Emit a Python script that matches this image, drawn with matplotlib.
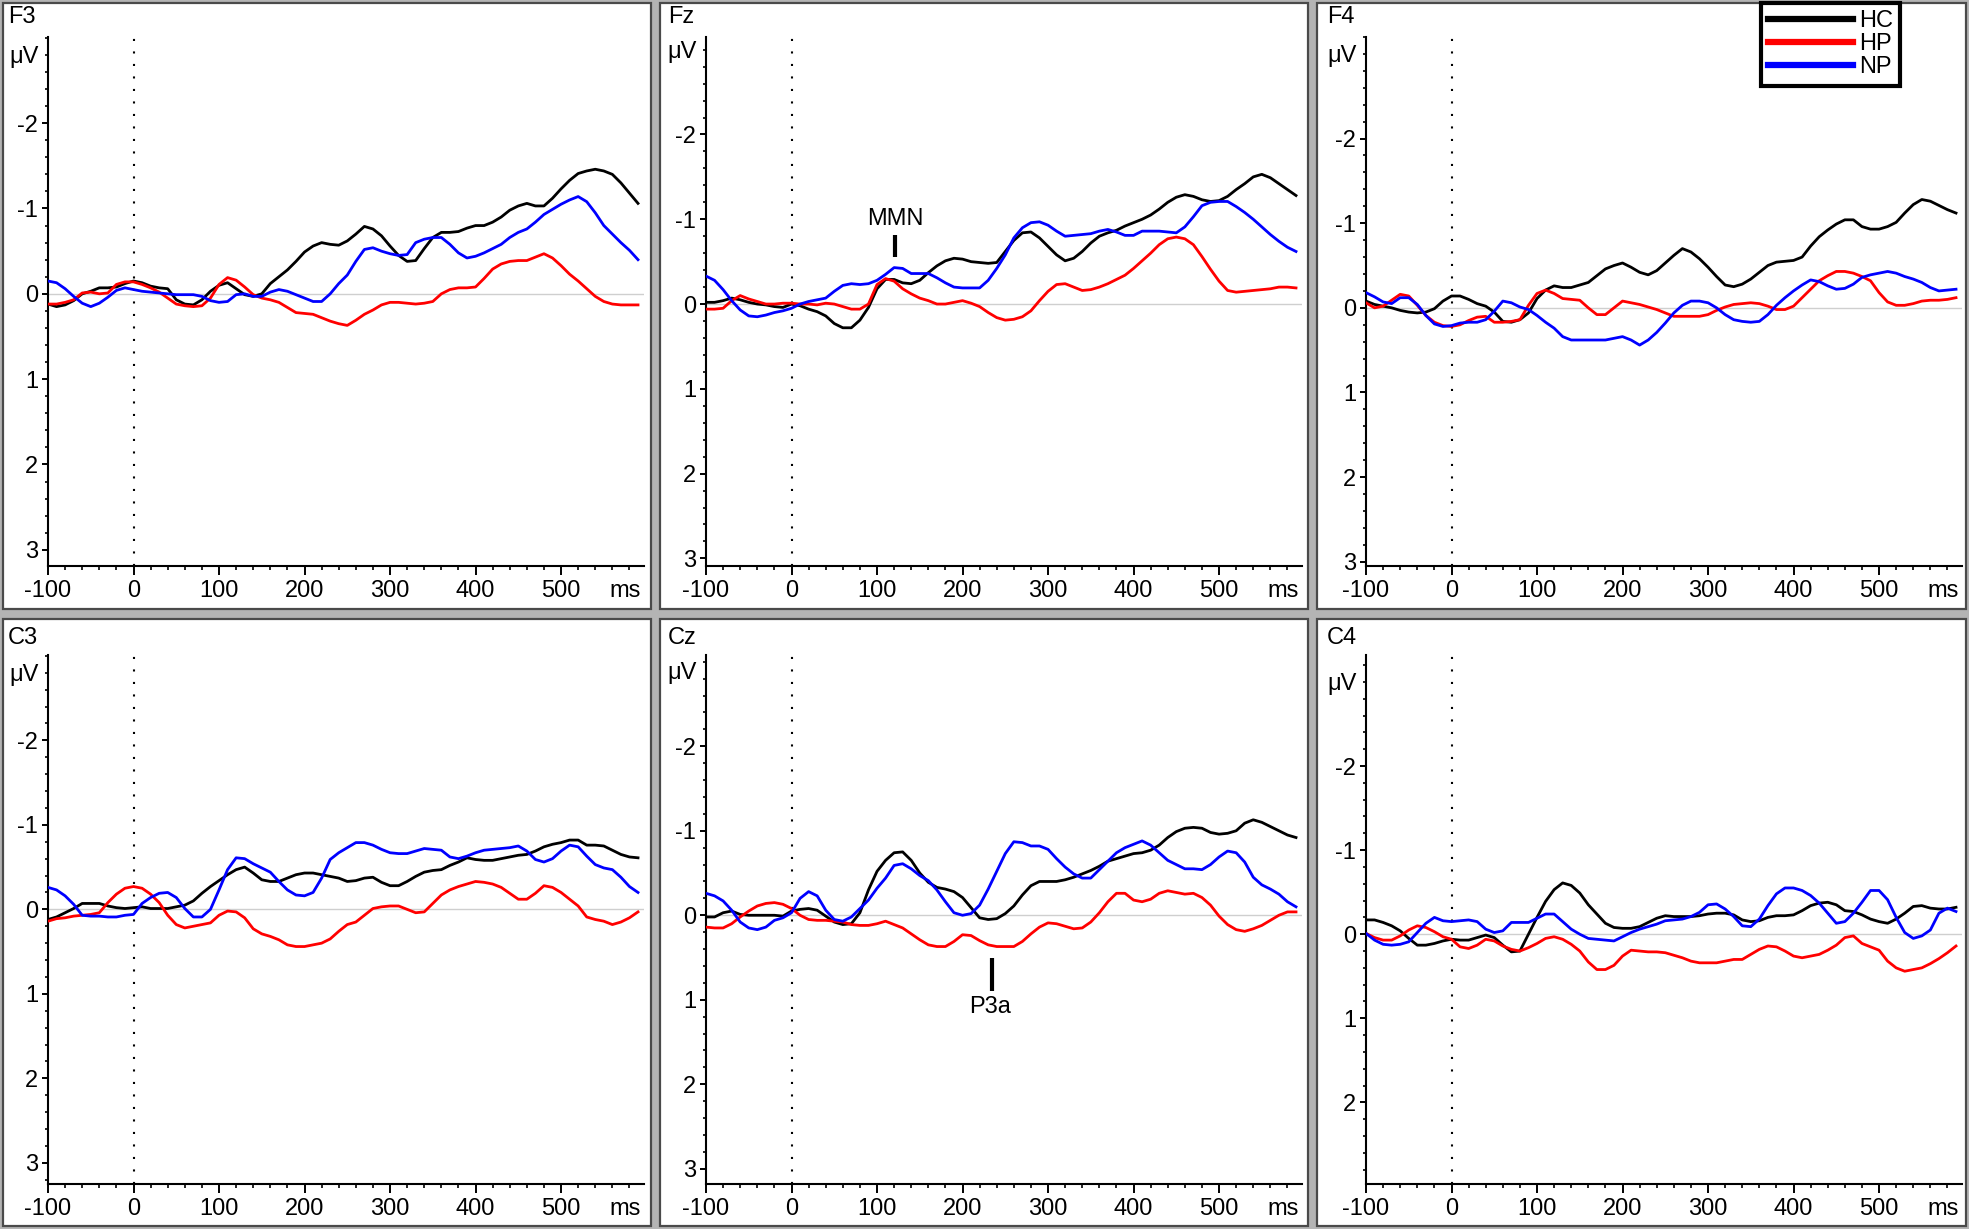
import numpy as np
import matplotlib
matplotlib.use("Agg")
import matplotlib.pyplot as plt
from matplotlib.ticker import FixedLocator, MultipleLocator
from matplotlib.patches import Rectangle

plt.rcParams["font.family"] = ["Liberation Sans", "DejaVu Sans"]
plt.rcParams["axes.unicode_minus"] = False

# ---- data (µV, negative plotted upwards), sampled every 10 ms ----
times = np.arange(-100, 600, 10)
channels = ["F3", "Fz", "F4", "C3", "Cz", "C4"]
groups = ["HC", "HP", "NP"]

F3_HC = [0.12, 0.15, 0.13, 0.08, 0.00, -0.03, -0.07, -0.07, -0.08, -0.12,
         -0.15, -0.13, -0.09, -0.07, -0.06, 0.07, 0.12, 0.13, 0.07, -0.03,
         -0.10, -0.13, -0.06, 0.01, 0.03, 0.00, -0.12, -0.20, -0.28, -0.38,
         -0.49, -0.56, -0.60, -0.58, -0.57, -0.62, -0.70, -0.79, -0.76, -0.68,
         -0.56, -0.45, -0.38, -0.39, -0.53, -0.66, -0.72, -0.72, -0.73, -0.77,
         -0.80, -0.80, -0.84, -0.90, -0.98, -1.03, -1.06, -1.03, -1.03, -1.12,
         -1.23, -1.33, -1.41, -1.44, -1.46, -1.44, -1.40, -1.30, -1.18, -1.06]
F3_HP = [0.12, 0.12, 0.10, 0.07, -0.01, -0.02, 0.00, -0.01, -0.11, -0.14,
         -0.14, -0.11, -0.07, -0.02, 0.05, 0.12, 0.14, 0.15, 0.14, 0.05,
         -0.11, -0.19, -0.16, -0.08, 0.01, 0.05, 0.07, 0.10, 0.16, 0.22,
         0.23, 0.24, 0.28, 0.32, 0.35, 0.37, 0.31, 0.24, 0.19, 0.13,
         0.10, 0.10, 0.11, 0.12, 0.11, 0.09, 0.00, -0.05, -0.07, -0.07,
         -0.08, -0.18, -0.29, -0.35, -0.38, -0.39, -0.39, -0.43, -0.47, -0.42,
         -0.33, -0.23, -0.15, -0.06, 0.03, 0.09, 0.12, 0.13, 0.13, 0.13]
F3_NP = [-0.15, -0.13, -0.06, 0.03, 0.11, 0.15, 0.11, 0.04, -0.04, -0.07,
         -0.05, -0.03, -0.02, -0.01, 0.00, 0.01, 0.01, 0.01, 0.03, 0.08,
         0.10, 0.09, 0.01, 0.00, 0.03, 0.03, -0.02, -0.05, -0.03, 0.01,
         0.05, 0.09, 0.09, 0.00, -0.12, -0.22, -0.38, -0.52, -0.54, -0.50,
         -0.47, -0.45, -0.46, -0.60, -0.64, -0.66, -0.66, -0.58, -0.48, -0.42,
         -0.44, -0.48, -0.53, -0.58, -0.66, -0.72, -0.76, -0.84, -0.93, -0.99,
         -1.05, -1.10, -1.14, -1.08, -0.95, -0.80, -0.70, -0.60, -0.51, -0.40]

Fz_HC = [-0.02, -0.02, -0.04, -0.07, -0.05, -0.02, 0.00, 0.01, 0.03, 0.04,
         0.00, 0.02, 0.06, 0.09, 0.14, 0.23, 0.28, 0.28, 0.19, 0.04,
         -0.18, -0.29, -0.29, -0.25, -0.24, -0.28, -0.37, -0.45, -0.51, -0.54,
         -0.53, -0.50, -0.49, -0.48, -0.49, -0.62, -0.75, -0.84, -0.85, -0.78,
         -0.68, -0.58, -0.51, -0.54, -0.62, -0.72, -0.80, -0.84, -0.87, -0.92,
         -0.96, -1.00, -1.05, -1.12, -1.20, -1.26, -1.29, -1.27, -1.23, -1.21,
         -1.22, -1.27, -1.35, -1.42, -1.50, -1.53, -1.49, -1.42, -1.35, -1.28]
Fz_HP = [0.06, 0.06, 0.05, -0.04, -0.10, -0.06, -0.03, 0.00, 0.00, -0.01,
         -0.01, 0.00, 0.00, 0.01, -0.01, 0.00, 0.03, 0.06, 0.06, 0.00,
         -0.23, -0.30, -0.27, -0.18, -0.12, -0.07, -0.04, 0.00, 0.00, -0.02,
         -0.04, -0.01, 0.03, 0.10, 0.16, 0.19, 0.18, 0.15, 0.08, -0.04,
         -0.15, -0.23, -0.24, -0.20, -0.16, -0.17, -0.20, -0.24, -0.29, -0.34,
         -0.42, -0.51, -0.60, -0.70, -0.77, -0.79, -0.77, -0.70, -0.56, -0.41,
         -0.27, -0.16, -0.14, -0.15, -0.16, -0.17, -0.18, -0.20, -0.20, -0.19]
Fz_NP = [-0.33, -0.28, -0.17, -0.04, 0.07, 0.14, 0.15, 0.13, 0.10, 0.08,
         0.05, 0.00, -0.03, -0.05, -0.07, -0.15, -0.22, -0.24, -0.23, -0.24,
         -0.28, -0.35, -0.43, -0.42, -0.36, -0.36, -0.36, -0.31, -0.25, -0.20,
         -0.19, -0.19, -0.19, -0.28, -0.42, -0.58, -0.78, -0.90, -0.96, -0.97,
         -0.93, -0.86, -0.80, -0.81, -0.82, -0.83, -0.86, -0.88, -0.85, -0.81,
         -0.81, -0.86, -0.86, -0.86, -0.85, -0.84, -0.91, -1.03, -1.16, -1.20,
         -1.21, -1.21, -1.15, -1.08, -1.00, -0.91, -0.82, -0.74, -0.67, -0.62]

F4_HC = [-0.08, -0.04, -0.02, 0.00, 0.03, 0.05, 0.06, 0.05, 0.01, -0.08,
         -0.14, -0.14, -0.10, -0.05, -0.02, 0.05, 0.16, 0.17, 0.14, 0.06,
         -0.11, -0.21, -0.26, -0.24, -0.24, -0.27, -0.30, -0.38, -0.46, -0.50,
         -0.53, -0.48, -0.42, -0.39, -0.44, -0.53, -0.62, -0.70, -0.66, -0.58,
         -0.48, -0.37, -0.27, -0.25, -0.28, -0.34, -0.42, -0.50, -0.54, -0.55,
         -0.56, -0.60, -0.73, -0.84, -0.92, -0.99, -1.04, -1.04, -0.96, -0.93,
         -0.93, -0.96, -1.01, -1.12, -1.22, -1.28, -1.26, -1.21, -1.16, -1.12]
F4_HP = [-0.06, 0.00, -0.02, -0.09, -0.16, -0.14, -0.03, 0.09, 0.17, 0.21,
         0.22, 0.20, 0.15, 0.11, 0.10, 0.17, 0.17, 0.16, 0.14, -0.03,
         -0.17, -0.21, -0.17, -0.11, -0.10, -0.09, 0.00, 0.08, 0.08, 0.00,
         -0.08, -0.06, -0.04, -0.01, 0.02, 0.06, 0.10, 0.10, 0.10, 0.10,
         0.08, 0.03, -0.01, -0.04, -0.05, -0.06, -0.05, -0.02, 0.02, 0.02,
         -0.02, -0.12, -0.22, -0.32, -0.38, -0.43, -0.43, -0.41, -0.37, -0.32,
         -0.18, -0.07, -0.03, -0.03, -0.05, -0.08, -0.09, -0.09, -0.10, -0.12]
F4_NP = [-0.18, -0.13, -0.07, -0.05, -0.12, -0.12, -0.04, 0.09, 0.19, 0.22,
         0.21, 0.18, 0.17, 0.17, 0.14, 0.04, -0.08, -0.06, -0.01, 0.02,
         0.09, 0.17, 0.24, 0.34, 0.38, 0.38, 0.38, 0.38, 0.38, 0.36,
         0.34, 0.38, 0.44, 0.38, 0.29, 0.18, 0.06, -0.03, -0.08, -0.08,
         -0.06, 0.00, 0.08, 0.14, 0.16, 0.17, 0.16, 0.08, -0.03, -0.12,
         -0.20, -0.27, -0.33, -0.31, -0.26, -0.22, -0.23, -0.28, -0.36, -0.39,
         -0.41, -0.43, -0.41, -0.37, -0.34, -0.30, -0.24, -0.20, -0.21, -0.22]

C3_HC = [0.12, 0.09, 0.04, -0.01, -0.07, -0.07, -0.07, -0.04, -0.02, -0.01,
         -0.02, -0.03, -0.01, -0.01, -0.01, -0.03, -0.05, -0.10, -0.19, -0.27,
         -0.34, -0.41, -0.47, -0.50, -0.43, -0.35, -0.33, -0.33, -0.37, -0.41,
         -0.43, -0.43, -0.41, -0.39, -0.37, -0.33, -0.34, -0.37, -0.38, -0.32,
         -0.28, -0.28, -0.33, -0.39, -0.44, -0.46, -0.47, -0.52, -0.56, -0.61,
         -0.59, -0.58, -0.58, -0.60, -0.62, -0.64, -0.65, -0.69, -0.74, -0.77,
         -0.79, -0.82, -0.82, -0.76, -0.76, -0.75, -0.70, -0.65, -0.62, -0.61]
C3_HP = [0.14, 0.11, 0.10, 0.08, 0.07, 0.06, 0.04, -0.08, -0.18, -0.25,
         -0.27, -0.25, -0.18, -0.08, 0.07, 0.18, 0.22, 0.20, 0.18, 0.16,
         0.07, 0.02, 0.03, 0.10, 0.23, 0.29, 0.32, 0.36, 0.42, 0.44,
         0.44, 0.42, 0.40, 0.35, 0.26, 0.18, 0.15, 0.07, -0.01, -0.03,
         -0.04, -0.04, 0.00, 0.04, 0.03, -0.07, -0.17, -0.23, -0.27, -0.30,
         -0.33, -0.32, -0.30, -0.26, -0.19, -0.12, -0.12, -0.19, -0.28, -0.26,
         -0.20, -0.12, -0.04, 0.09, 0.12, 0.14, 0.18, 0.15, 0.10, 0.03]
C3_NP = [-0.26, -0.23, -0.16, -0.06, 0.07, 0.08, 0.08, 0.09, 0.09, 0.07,
         0.06, -0.07, -0.14, -0.19, -0.20, -0.14, -0.01, 0.09, 0.09, 0.00,
         -0.23, -0.47, -0.61, -0.60, -0.54, -0.49, -0.44, -0.33, -0.23, -0.17,
         -0.16, -0.20, -0.37, -0.59, -0.67, -0.73, -0.79, -0.79, -0.76, -0.71,
         -0.67, -0.66, -0.66, -0.69, -0.72, -0.71, -0.70, -0.62, -0.60, -0.63,
         -0.67, -0.70, -0.71, -0.72, -0.73, -0.75, -0.69, -0.59, -0.56, -0.60,
         -0.69, -0.76, -0.74, -0.63, -0.53, -0.49, -0.47, -0.38, -0.27, -0.20]

Cz_HC = [0.02, 0.02, -0.03, -0.05, -0.01, 0.00, 0.00, 0.00, 0.00, 0.01,
         -0.05, -0.07, -0.08, -0.06, 0.01, 0.08, 0.11, 0.10, -0.03, -0.30,
         -0.52, -0.65, -0.74, -0.75, -0.65, -0.50, -0.39, -0.33, -0.31, -0.28,
         -0.21, -0.09, 0.03, 0.05, 0.04, -0.02, -0.11, -0.24, -0.35, -0.40,
         -0.40, -0.40, -0.42, -0.45, -0.49, -0.53, -0.58, -0.64, -0.67, -0.70,
         -0.73, -0.74, -0.77, -0.83, -0.92, -0.99, -1.03, -1.04, -1.03, -0.98,
         -0.96, -0.97, -1.00, -1.09, -1.13, -1.10, -1.05, -1.00, -0.95, -0.92]
Cz_HP = [0.14, 0.15, 0.15, 0.10, 0.02, -0.05, -0.11, -0.14, -0.15, -0.13,
         -0.08, 0.00, 0.05, 0.06, 0.06, 0.07, 0.08, 0.11, 0.12, 0.12,
         0.10, 0.07, 0.11, 0.15, 0.22, 0.29, 0.35, 0.37, 0.37, 0.31,
         0.23, 0.24, 0.30, 0.35, 0.37, 0.37, 0.37, 0.31, 0.22, 0.14,
         0.09, 0.10, 0.13, 0.16, 0.15, 0.08, -0.03, -0.16, -0.26, -0.26,
         -0.18, -0.16, -0.19, -0.26, -0.29, -0.27, -0.25, -0.26, -0.21, -0.12,
         0.01, 0.11, 0.17, 0.19, 0.16, 0.12, 0.06, 0.00, -0.04, -0.04]
Cz_NP = [-0.26, -0.23, -0.17, -0.06, 0.08, 0.15, 0.17, 0.14, 0.06, 0.03,
         -0.03, -0.20, -0.28, -0.23, -0.06, 0.05, 0.07, 0.02, -0.08, -0.18,
         -0.32, -0.44, -0.59, -0.61, -0.55, -0.47, -0.41, -0.30, -0.16, -0.03,
         0.00, -0.02, -0.12, -0.31, -0.52, -0.73, -0.87, -0.86, -0.82, -0.82,
         -0.78, -0.67, -0.57, -0.49, -0.44, -0.44, -0.54, -0.64, -0.74, -0.80,
         -0.84, -0.88, -0.83, -0.74, -0.65, -0.60, -0.55, -0.55, -0.54, -0.60,
         -0.69, -0.76, -0.74, -0.63, -0.45, -0.36, -0.31, -0.25, -0.16, -0.10]

C4_HC = [-0.17, -0.17, -0.14, -0.10, -0.04, 0.05, 0.13, 0.13, 0.11, 0.08,
         0.06, 0.07, 0.07, 0.04, 0.01, 0.04, 0.13, 0.21, 0.20, 0.00,
         -0.20, -0.39, -0.53, -0.61, -0.58, -0.49, -0.35, -0.24, -0.13, -0.08,
         -0.07, -0.07, -0.09, -0.14, -0.19, -0.22, -0.21, -0.21, -0.21, -0.22,
         -0.24, -0.25, -0.25, -0.23, -0.17, -0.15, -0.16, -0.20, -0.22, -0.22,
         -0.23, -0.28, -0.34, -0.37, -0.38, -0.35, -0.28, -0.27, -0.23, -0.18,
         -0.15, -0.13, -0.18, -0.25, -0.33, -0.34, -0.31, -0.30, -0.30, -0.32]
C4_HP = [-0.01, 0.04, 0.07, 0.07, 0.02, -0.05, -0.10, -0.08, -0.03, 0.03,
         0.06, 0.15, 0.17, 0.13, 0.06, 0.08, 0.14, 0.18, 0.20, 0.16,
         0.11, 0.05, 0.03, 0.06, 0.12, 0.20, 0.33, 0.42, 0.42, 0.37,
         0.26, 0.19, 0.20, 0.21, 0.21, 0.22, 0.25, 0.28, 0.32, 0.34,
         0.34, 0.34, 0.32, 0.30, 0.30, 0.24, 0.18, 0.14, 0.15, 0.20,
         0.26, 0.28, 0.26, 0.24, 0.19, 0.13, 0.04, 0.02, 0.11, 0.15,
         0.19, 0.32, 0.40, 0.44, 0.42, 0.40, 0.35, 0.29, 0.22, 0.14]
C4_NP = [-0.01, 0.07, 0.12, 0.13, 0.12, 0.09, -0.02, -0.13, -0.20, -0.16,
         -0.15, -0.16, -0.17, -0.15, -0.06, -0.02, -0.04, -0.14, -0.14, -0.14,
         -0.19, -0.24, -0.24, -0.15, -0.06, 0.00, 0.05, 0.06, 0.07, 0.08,
         0.03, -0.02, -0.06, -0.09, -0.12, -0.16, -0.17, -0.18, -0.21, -0.26,
         -0.35, -0.36, -0.30, -0.21, -0.10, -0.09, -0.18, -0.34, -0.48, -0.55,
         -0.55, -0.52, -0.46, -0.37, -0.25, -0.13, -0.15, -0.25, -0.38, -0.52,
         -0.52, -0.41, -0.20, -0.02, 0.05, 0.02, -0.05, -0.25, -0.31, -0.27]

waves = {
    "F3": [F3_HC, F3_HP, F3_NP],
    "Fz": [Fz_HC, Fz_HP, Fz_NP],
    "F4": [F4_HC, F4_HP, F4_NP],
    "C3": [C3_HC, C3_HP, C3_NP],
    "Cz": [Cz_HC, Cz_HP, Cz_NP],
    "C4": [C4_HC, C4_HP, C4_NP],
}

# ---- layout (pixels on a 1969 x 1229 canvas) ----
W, H = 1969, 1229
colors = ["black", "#ff0000", "#0000ff"]
panel_x = [(3, 651), (660, 1308), (1317, 1966)]
panel_y = [(3, 609), (619, 1226)]
ax_left = [48, 706, 1366]
ax_top = [37, 655]
ax_w, ax_h = 596, 529
label_x = [8, 668, 1327]
label_y = [6, 627]
ylims = {"F3": (3.19, -3.01), "Fz": (3.09, -3.15), "F4": (3.05, -3.20),
         "C3": (3.25, -3.01), "Cz": (3.18, -3.08), "C4": (2.97, -3.32)}
uv_pos = {"F3": -2.8, "Fz": -3.0, "F4": -3.0, "C3": -2.8, "Cz": -2.9, "C4": -3.0}
FS = 17

fig = plt.figure(figsize=(W / 100, H / 100), dpi=100, facecolor="#b4b4b4")

axes = {}
for i, ch in enumerate(channels):
    r, c = divmod(i, 3)
    x0, x1 = panel_x[c]
    y0, y1 = panel_y[r]
    fig.add_artist(Rectangle((x0 / W, 1 - y1 / H), (x1 - x0) / W, (y1 - y0) / H,
                             transform=fig.transFigure, facecolor="white",
                             edgecolor="#4a4a4a", lw=1.6, zorder=-5))
    ax = fig.add_axes([ax_left[c] / W, 1 - (ax_top[r] + ax_h) / H, ax_w / W, ax_h / H])
    ax.set_facecolor("none")
    axes[ch] = ax

    ax.axhline(0, color="#cfcfcf", lw=1.0, zorder=1)
    ax.axvline(0, color="black", lw=1.5, ls=(0, (1, 5)), zorder=1)
    for g, vals, col in zip(groups, waves[ch], colors):
        ax.plot(times, vals, color=col, lw=2.0, label=g, zorder=3)

    ax.set_xlim(-100, 597)
    ax.set_ylim(*ylims[ch])
    ax.xaxis.set_major_locator(FixedLocator([-100, 0, 100, 200, 300, 400, 500]))
    ax.xaxis.set_minor_locator(MultipleLocator(20))
    ax.yaxis.set_major_locator(FixedLocator([-2, -1, 0, 1, 2, 3]))
    ax.yaxis.set_minor_locator(MultipleLocator(0.2))
    ax.tick_params(axis="x", which="major", direction="out", length=6.5, width=1.4,
                   pad=3.5, labelsize=FS)
    ax.tick_params(axis="x", which="minor", direction="out", length=3, width=1.2)
    ax.tick_params(axis="y", which="major", direction="out", length=4.5, width=1.4,
                   pad=2.5, labelsize=FS)
    ax.tick_params(axis="y", which="minor", direction="out", length=2.5, width=1.2)
    for s in ["top", "right"]:
        ax.spines[s].set_visible(False)
    for s in ["left", "bottom"]:
        ax.spines[s].set_linewidth(1.5)

    ax.annotate("ms", xy=(1, 0), xycoords="axes fraction", xytext=(-2, -10),
                textcoords="offset points", ha="right", va="top", fontsize=FS)
    ax.annotate("μV", xy=(0, uv_pos[ch]), xycoords=ax.get_yaxis_transform(),
                xytext=(-6.5, 0), textcoords="offset points", ha="right",
                va="center_baseline", fontsize=FS)
    fig.text(label_x[c] / W, 1 - label_y[r] / H, ch, ha="left", va="top", fontsize=FS)

# component markers
axz = axes["Fz"]
axz.plot([121, 121], [-0.81, -0.56], color="black", lw=3, solid_capstyle="butt", zorder=4)
axz.text(121, -1.0, "MMN", ha="center", va="center", fontsize=FS)
axc = axes["Cz"]
axc.plot([234, 234], [0.5, 0.9], color="black", lw=3, solid_capstyle="butt", zorder=4)
axc.text(232, 1.09, "P3a", ha="center", va="center", fontsize=FS)

# legend in F4 panel
leg = axes["F4"].legend(loc="upper left", bbox_to_anchor=(1761 / W, 1 - 3 / H),
                        bbox_transform=fig.transFigure, frameon=True, fancybox=False,
                        edgecolor="black", framealpha=1, fontsize=FS,
                        handlelength=3.6, handletextpad=0.25, borderpad=0.3,
                        labelspacing=0.05, borderaxespad=0)
leg.get_frame().set_linewidth(3)
for h in leg.legend_handles:
    h.set_linewidth(4.5)

fig.savefig("out.png", dpi=100, facecolor=fig.get_facecolor())
